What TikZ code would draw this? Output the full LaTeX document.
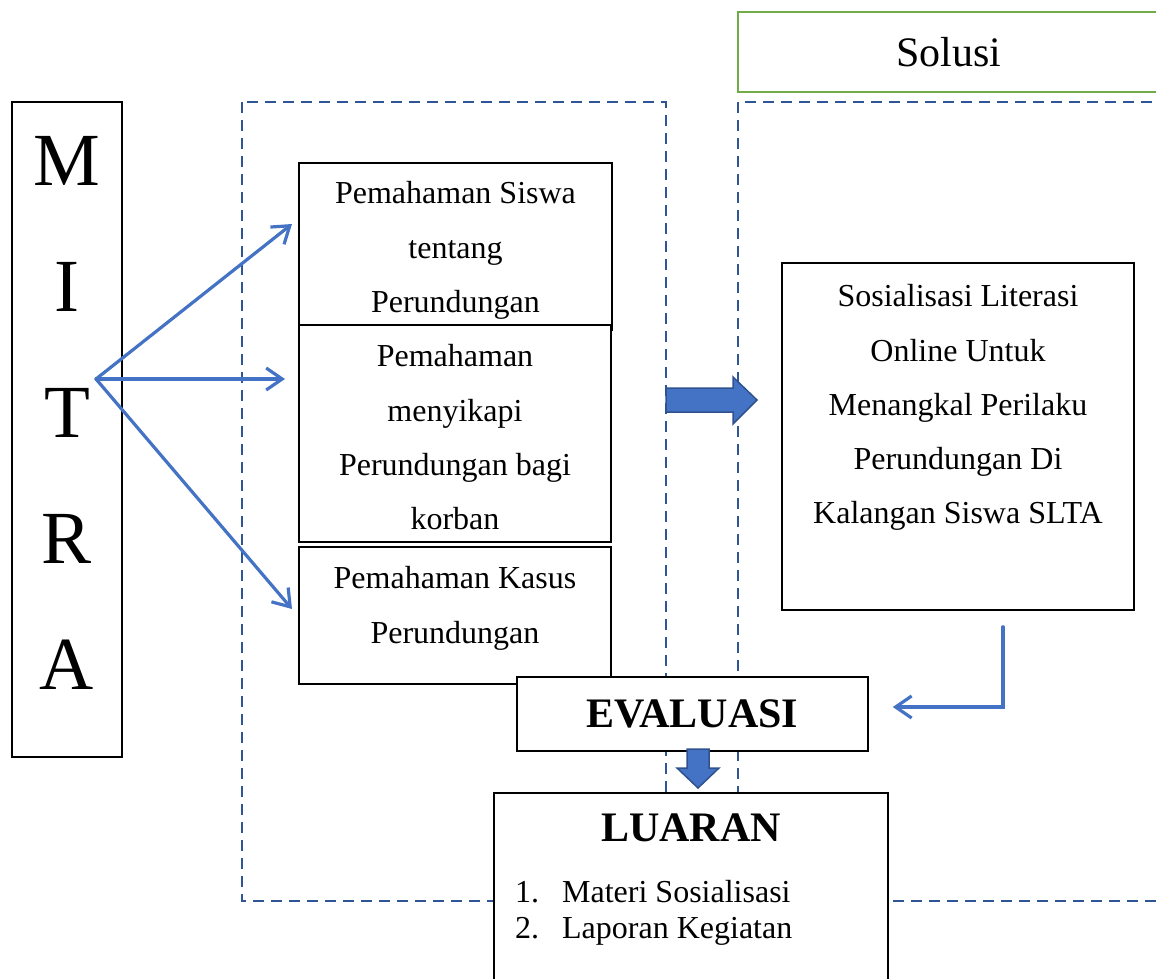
\documentclass[tikz,border=0pt]{standalone}
\usepackage{fontspec}
\setmainfont{Liberation Serif}
\usetikzlibrary{arrows.meta}
\definecolor{flowblue}{HTML}{4472C4}
\definecolor{dashblue}{HTML}{2F5597}
\definecolor{edgeblue}{HTML}{2F528F}
\definecolor{solgreen}{HTML}{70AD47}
\newcommand{\toppad}{\rule{0pt}{30pt}}

\begin{document}
\begin{tikzpicture}[x=1pt,y=-1pt,
    box/.style={draw,line width=1.6pt,fill=white,align=center,inner sep=0pt,
        font=\fontsize{32}{54.3}\selectfont},
    region/.style={dashblue,line width=2.8pt,dash pattern=on 11pt off 7pt},
    flow/.style={flowblue,line width=3.2pt,line cap=round,
        -{Straight Barb[length=16pt,width=22pt]}},
    blockarrow/.style={fill=flowblue,draw=edgeblue,line width=1.5pt},
    heading/.style={font=\bfseries\fontsize{42}{50}\selectfont}]
    \useasboundingbox (0,0) rectangle (1156,979);
    \clip (0,0) rectangle (1156,979);
    % dashed regions
    \draw[region] (242,102) rectangle (666,901);
    \draw[region] (1170,102) -- (738,102) -- (738,901) -- (1170,901);
    % boxes
    \node[box,minimum width=110pt,minimum height=655pt,font=\fontsize{75}{126}\selectfont]
        (mitra) at (67,429.5) {M\\I\\T\\R\\A\\[-92pt]\mbox{}};
    \node[box,draw=solgreen,line width=2pt,minimum width=422pt,minimum height=80pt,
        font=\fontsize{42}{50}\selectfont] (solusi) at (949,52) {Solusi};
    \node[box,minimum width=313pt,minimum height=167pt] (siswa) at (455.5,246.5)
        {\toppad Pemahaman Siswa\\tentang\\Perundungan};
    \node[box,minimum width=312pt,minimum height=217pt] (korban) at (455,433.5)
        {\toppad Pemahaman\\menyikapi\\Perundungan bagi\\korban};
    \node[box,minimum width=312pt,minimum height=137pt] (kasus) at (455,615.5)
        {\toppad Pemahaman Kasus\\Perundungan\\[-25pt]\mbox{}};
    \node[box,minimum width=352pt,minimum height=347pt] (sosial) at (958,436.5)
        {\toppad Sosialisasi Literasi\\Online Untuk\\Menangkal Perilaku\\Perundungan Di\\Kalangan Siswa SLTA\\[18pt]\mbox{}};
    \node[box,heading,minimum width=351pt,minimum height=74pt] (evaluasi) at (692.5,714) {EVALUASI};
    \node[box,minimum width=394pt,minimum height=240pt,anchor=north] (luaran) at (691,792) {};
    \node[heading] (luaranhead) at (691,828) {LUARAN};
    \node[align=left,anchor=north west,inner sep=0pt,font=\fontsize{32}{36}\selectfont]
        (luaranlist) at (515,880)
        {\makebox[47pt][l]{1.}Materi Sosialisasi\\\makebox[47pt][l]{2.}Laporan Kegiatan};
    % block arrows
    \draw[blockarrow] (666,388) -- (733,388) -- (733,377) -- (757,400) -- (733,424)
        -- (733,412) -- (666,412) -- cycle;
    \draw[blockarrow] (687,749) -- (709,749) -- (709,768) -- (719,768) -- (698,788)
        -- (677,768) -- (687,768) -- cycle;
    % connectors
    \coordinate (fork) at (96,379);
    \coordinate (tipsiswa) at (292,224);
    \coordinate (tipkorban) at (285,379);
    \coordinate (tipkasus) at (292,609);
    \path[flow]
    (fork) edge (tipsiswa)
           edge (tipkorban)
           edge (tipkasus);
    \draw[flow] ([xshift=45pt,yshift=-16pt]sosial.south) |- ([xshift=24pt,yshift=7pt]evaluasi.east);
\end{tikzpicture}
\end{document}
